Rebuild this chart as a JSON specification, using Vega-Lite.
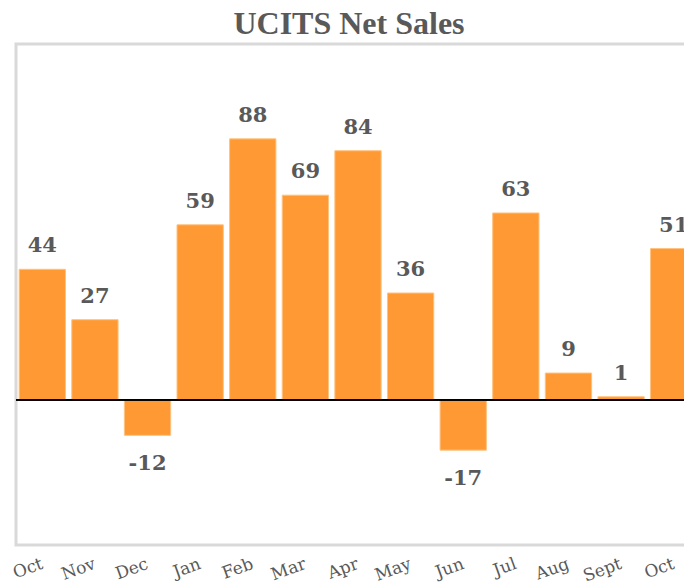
{
  "$schema": "https://vega.github.io/schema/vega-lite/v6.json",
  "width": 684,
  "height": 501,
  "autosize": {"type": "none"},
  "padding": {"left": 16, "top": 44, "right": 0, "bottom": 40},
  "background": "white",
  "title": {
    "text": "UCITS Net Sales",
    "font": "Liberation Serif",
    "fontSize": 32,
    "fontWeight": "bold",
    "color": "#595959",
    "anchor": "middle",
    "frame": "group",
    "baseline": "alphabetic",
    "offset": 3,
    "dx": -9,
    "dy": 25
  },
  "config": {
    "view": {"stroke": "#d9d9d9", "strokeWidth": 3}
  },
  "data": {
    "values": [
      {"period": "Oct-13", "value": 44},
      {"period": "Nov-13", "value": 27},
      {"period": "Dec-13", "value": -12},
      {"period": "Jan-14", "value": 59},
      {"period": "Feb-14", "value": 88},
      {"period": "Mar-14", "value": 69},
      {"period": "Apr-14", "value": 84},
      {"period": "May-14", "value": 36},
      {"period": "Jun-14", "value": -17},
      {"period": "Jul-14", "value": 63},
      {"period": "Aug-14", "value": 9},
      {"period": "Sept-14", "value": 1},
      {"period": "Oct-14", "value": 51}
    ]
  },
  "encoding": {
    "x": {
      "field": "period",
      "type": "nominal",
      "sort": null,
      "scale": {"paddingInner": 0.12, "paddingOuter": 0.06},
      "axis": {
        "title": null,
        "domain": false,
        "ticks": false,
        "labelAngle": -20,
        "labelAlign": "right",
        "labelBaseline": "middle",
        "labelPadding": 18,
        "labelFont": "DejaVu Serif",
        "labelFontSize": 17,
        "labelColor": "#595959",
        "labelExpr": "split(datum.label, '-')[0]"
      }
    },
    "y": {
      "field": "value",
      "type": "quantitative",
      "scale": {"domain": [-49, 120], "nice": false, "zero": false},
      "axis": null
    }
  },
  "layer": [
    {
      "mark": {"type": "bar", "color": "#ff9933", "stroke": "#ffc27f", "strokeWidth": 1}
    },
    {
      "transform": [{"filter": "datum.value >= 0"}],
      "mark": {
        "type": "text",
        "font": "DejaVu Serif",
        "fontSize": 21,
        "fontWeight": "bold",
        "color": "#595959",
        "baseline": "alphabetic",
        "dy": -17
      },
      "encoding": {"text": {"field": "value", "type": "nominal"}}
    },
    {
      "transform": [{"filter": "datum.value < 0"}],
      "mark": {
        "type": "text",
        "font": "DejaVu Serif",
        "fontSize": 21,
        "fontWeight": "bold",
        "color": "#595959",
        "baseline": "alphabetic",
        "dy": 35
      },
      "encoding": {"text": {"field": "value", "type": "nominal"}}
    },
    {
      "mark": {"type": "rule", "color": "black", "strokeWidth": 1},
      "encoding": {"y": {"datum": 0}, "x": {"value": 0}, "x2": {"value": 684}}
    }
  ]
}
